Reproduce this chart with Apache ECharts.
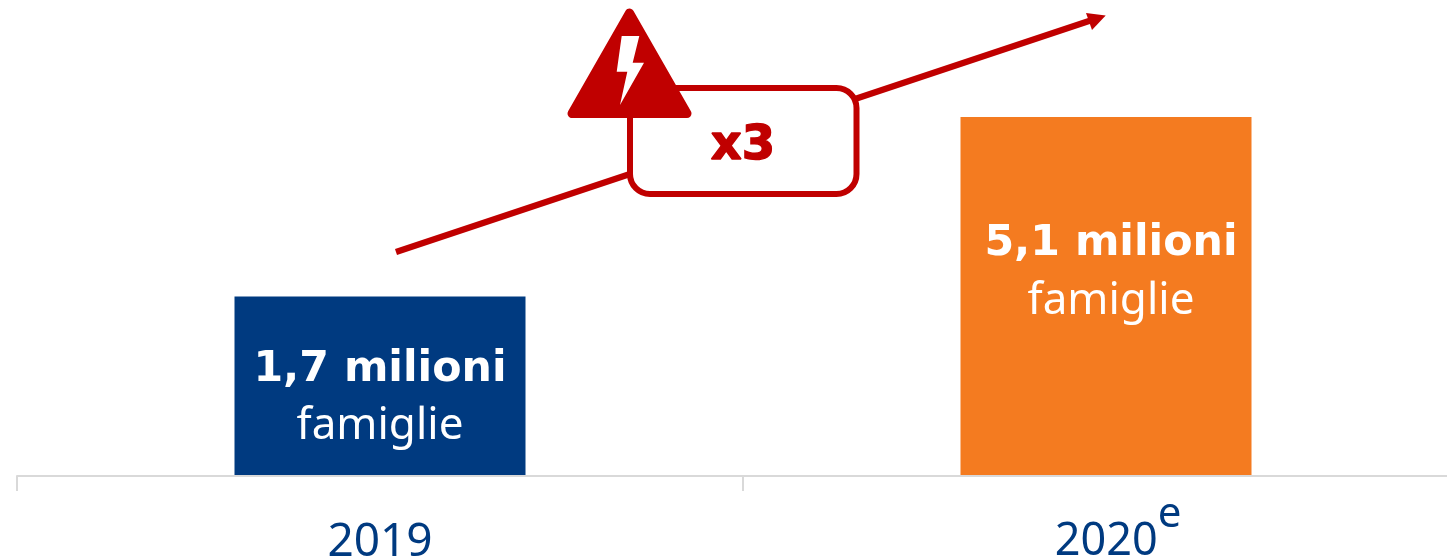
<!DOCTYPE html>
<html><head><meta charset="utf-8">
<style>html,body{margin:0;padding:0;background:#fff;overflow:hidden}#c{width:1447px;height:560px}</style>
<script src="https://cdn.jsdelivr.net/npm/echarts@6/dist/echarts.min.js"></script>
</head><body><div id="c"></div>
<script>
const categories = ['2019', '2020'];
const values = [1.7, 5.1];
const valueLabels = ['1,7 milioni', '5,1 milioni'];
const unitLabel = 'famiglie';
const growthLabel = 'x3';
const axisStart = -1.7;
const RED = '#C00000', BLUE = '#003A80', ORANGE = '#F47B20';
const barColors = [BLUE, ORANGE];
const labelOffsets = [[0, 12], [5, -24]];
const font = '"DejaVu Sans"', tickFont = '"Noto Sans"';
const barWidth = 291;

const chart = echarts.init(document.getElementById('c'), null, {renderer: 'canvas'});
chart.setOption({
  animation: false,
  backgroundColor: '#fff',
  grid: {left: 17, top: 117, width: 1452, height: 359, outerBoundsMode: 'none'},
  xAxis: {
    type: 'category', data: categories, z: 5,
    axisLine: {show: true, onZero: false, lineStyle: {color: '#D9D9D9', width: 2}},
    axisTick: {show: true, length: 15, lineStyle: {color: '#D9D9D9', width: 2}},
    axisLabel: {
      margin: 16, interval: 0, hideOverlap: false,
      formatter: v => v === '2020' ? '{d|2020}{e|e}' : '{b|' + v + '}',
      rich: {
        b: {fontFamily: tickFont, fontSize: 46, color: BLUE, padding: [28, 0, 0, 0]},
        d: {fontFamily: tickFont, fontSize: 45, color: BLUE, padding: [28, 0, 0, 24]},
        e: {fontFamily: tickFont, fontSize: 42, color: BLUE, padding: [0, 0, 26, 0]}
      }
    }
  },
  yAxis: {type: 'value', min: axisStart, max: 5.1, show: false, splitLine: {show: false}},
  series: [{
    type: 'custom', clip: false, z: 2,
    encode: {x: 0, y: 1},
    data: values.map((v, i) => [i, v]),
    renderItem(params, api) {
      const i = api.value(0);
      const top = api.coord([i, api.value(1)]);
      const base = api.coord([i, axisStart]);
      return {
        type: 'rect',
        shape: {x: top[0] - barWidth / 2, y: top[1], width: barWidth, height: base[1] - top[1]},
        style: {fill: barColors[i]},
        textContent: {
          style: {
            text: '{a|' + valueLabels[i] + '}\n{b|' + unitLabel + '}',
            align: 'center',
            rich: {
              a: {fontFamily: font, fontWeight: 'bold', fontSize: 42.7, fill: '#fff', lineHeight: 57, align: 'center'},
              b: {fontFamily: '"Noto Sans"', fontSize: 44, fill: '#fff', lineHeight: 57, align: 'center'}
            }
          }
        },
        textConfig: {position: 'inside', offset: labelOffsets[i]}
      };
    }
  }],
  graphic: [
    {type: 'line', z: 10, shape: {x1: 396, y1: 252, x2: 1092, y2: 20}, style: {stroke: RED, lineWidth: 6.5}},
    {type: 'polygon', z: 10, shape: {points: [[1105.7, 15.5], [1086, 13], [1092, 30]]}, style: {fill: RED}},
    {type: 'rect', z: 11, shape: {x: 630, y: 88, width: 226.5, height: 106, r: 20}, style: {fill: '#fff', stroke: RED, lineWidth: 6}},
    {type: 'text', z: 12, x: 743, y: 147, style: {text: growthLabel, fill: RED, stroke: RED, lineWidth: 1.5, font: 'bold 48px "DejaVu Sans"', textAlign: 'center', textVerticalAlign: 'middle'}},
    {type: 'polygon', z: 13, shape: {points: [[629.5, 13], [572, 113.5], [687, 113.5]]}, style: {fill: RED, stroke: RED, lineWidth: 9, lineJoin: 'round'}},
    {type: 'polygon', z: 14, shape: {points: [[621.7, 36], [639.3, 36], [632.7, 62.7], [644, 62.7], [620, 105], [627.3, 71.7], [616.7, 71.7]]}, style: {fill: '#fff'}}
  ]
});
</script></body></html>
